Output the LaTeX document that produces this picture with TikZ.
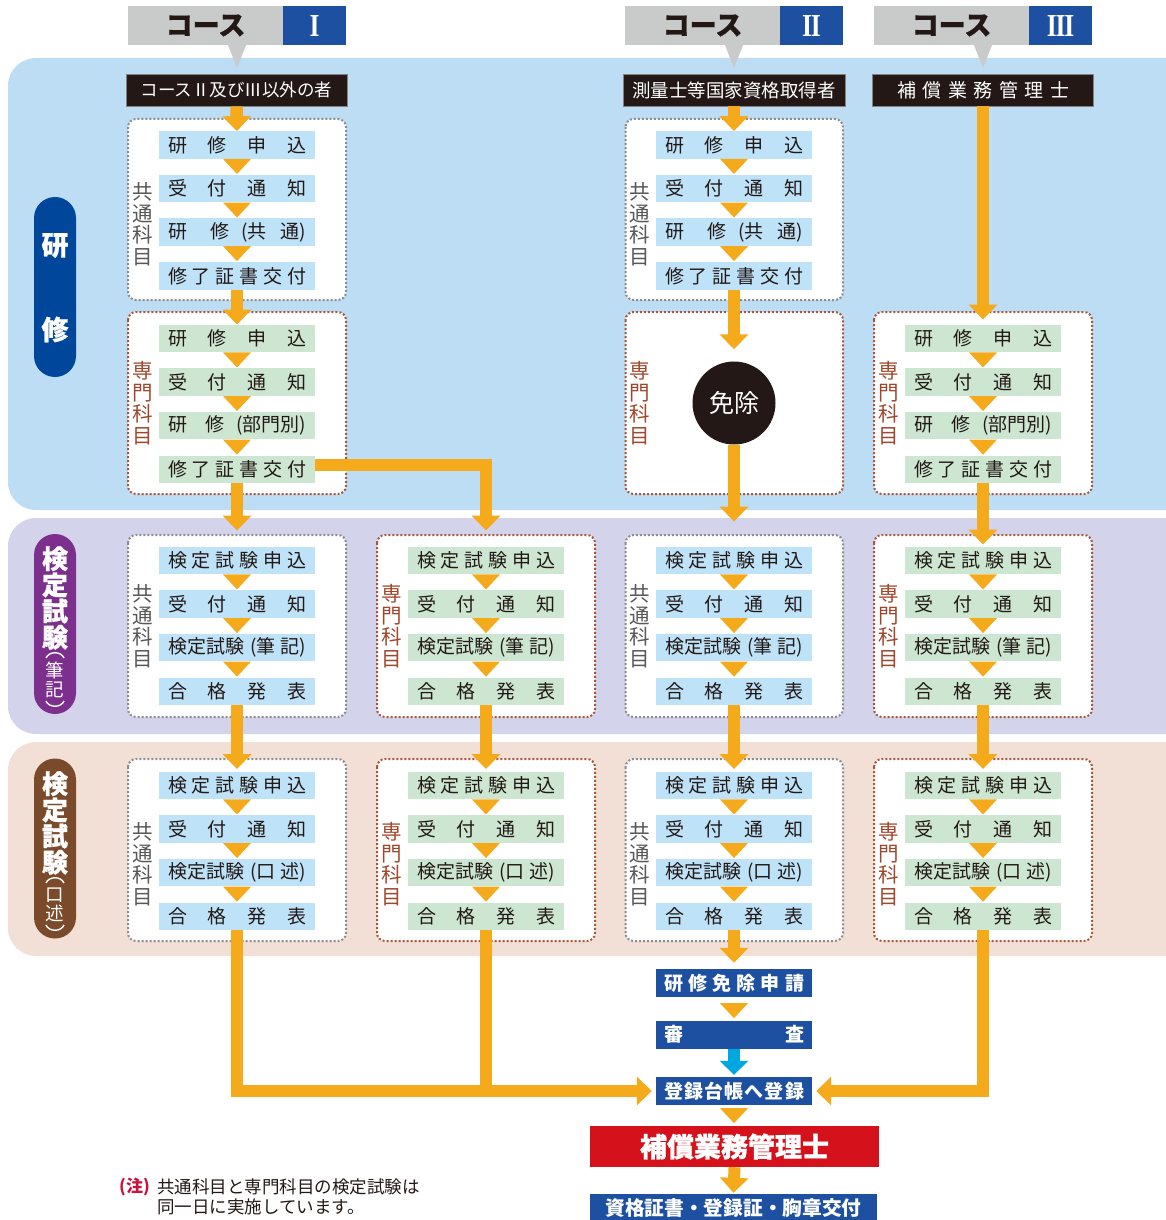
\documentclass[tikz,border=0pt]{standalone}
\usepackage{fontspec}
\usepackage{graphicx}
\setmainfont{Noto Sans CJK JP}
\newfontfamily\romnum{Liberation Serif}
\usetikzlibrary{calc,arrows.meta}
\definecolor{bandA}{HTML}{BCDDF4}
\definecolor{bandB}{HTML}{D3D4EB}
\definecolor{bandC}{HTML}{F2E0D7}
\definecolor{stepB}{HTML}{BEE3F8}
\definecolor{stepG}{HTML}{CCE6D2}
\definecolor{ink}{HTML}{231815}
\definecolor{orng}{HTML}{F5AA1C}
\definecolor{hgray}{HTML}{C9CACA}
\definecolor{hblue}{HTML}{1E50A2}
\definecolor{pillA}{HTML}{00469B}
\definecolor{pillB}{HTML}{7D2F8E}
\definecolor{pillC}{HTML}{7A4A2B}
\definecolor{lblgray}{HTML}{595757}
\definecolor{lblbrown}{HTML}{A0472B}
\definecolor{dotgray}{HTML}{8C8C8C}
\definecolor{dotbrown}{HTML}{A9553A}
\definecolor{redbox}{HTML}{D5121C}
\definecolor{cyanarr}{HTML}{00A7E1}
\definecolor{notered}{HTML}{C8143C}
\newcommand\heavy{\bfseries\addfontfeatures{FakeBold=0.8}}
\newcommand\stA{\makebox[138pt][s]{研\hfill 修\hfill 申\hfill 込}}
\newcommand\stB{\makebox[138pt][s]{受\hfill 付\hfill 通\hfill 知}}
\newcommand\stC{\makebox[138pt][s]{研\hfill 修\hspace{12pt}(共\hspace{14pt}通)}}
\newcommand\stD{\makebox[138pt][s]{研\hfill 修\hspace{12pt}(部門別)}}
\newcommand\stE{\makebox[138pt][s]{修\hfill 了\hfill 証\hfill 書\hfill 交\hfill 付}}
\newcommand\stF{\makebox[138pt][s]{検\hfill 定\hfill 試\hfill 験\hfill 申\hfill 込}}
\newcommand\stG{\makebox[138pt][s]{検定試験\hfill(筆\hspace{5pt}記)}}
\newcommand\stH{\makebox[138pt][s]{検定試験\hfill(口\hspace{5pt}述)}}
\newcommand\stI{\makebox[138pt][s]{合\hfill 格\hfill 発\hfill 表}}
\newcommand\rn[1]{\scalebox{0.8}[1]{#1}}
\newcommand\fourstep[8]{%
  \node[#4] (#1x1) at (#2,#3) {#5};
  \node[#4] (#1x2) at (#2,#3+43.6) {#6};
  \node[#4] (#1x3) at (#2,#3+87.2) {#7};
  \node[#4] (#1x4) at (#2,#3+130.8) {#8};
  \foreach \k in {1,2,3}{\fill[orng] ($(#1x\k.south)+(-14,0)$) -- ($(#1x\k.south)+(14,0)$) -- ($(#1x\k.south)+(0,15)$) -- cycle;}
}
\tikzset{
  stepbox/.style={minimum width=156pt, minimum height=27.5pt, inner sep=0pt, text=ink, font=\fontsize{19}{19}\selectfont},
  stepblue/.style={stepbox, fill=stepB},
  stepgreen/.style={stepbox, fill=stepG},
  bigarrow/.style={draw=orng, line width=12.5pt, -{Triangle[width=28pt,length=15pt]}},
  bigline/.style={draw=orng, line width=12.5pt},
  dotA/.style={draw=dotgray, line width=2pt, dash pattern=on 2pt off 2pt, rounded corners=8pt, fill=white},
  dotB/.style={draw=dotbrown, line width=2pt, dash pattern=on 2pt off 2pt, rounded corners=8pt, fill=white},
  vlab/.style={align=center, inner sep=0pt, font=\fontsize{20.5}{21.5}\selectfont},
  vgray/.style={vlab, text=lblgray},
  vbrown/.style={vlab, text=lblbrown},
  hdrg/.style={fill=hgray, minimum width=155pt, minimum height=39pt, inner sep=0pt, text=ink, font=\fontsize{27}{27}\selectfont\heavy},
  hdrb/.style={fill=hblue, minimum width=63pt, minimum height=39pt, inner sep=0pt, text=white, font=\fontsize{32}{32}\romnum\bfseries},
  blk/.style={fill=ink, draw=ink!55, line width=0.8pt, minimum width=221pt, minimum height=32pt, inner sep=0pt, text=white},
  pill/.style={rounded corners=21pt, minimum width=42pt, minimum height=180pt, inner sep=0pt},
  pilltxt/.style={align=center, inner sep=0pt, text=white, font=\fontsize{26}{26.2}\selectfont\heavy},
  pillsmall/.style={align=center, inner sep=0pt, text=white, font=\fontsize{18.5}{19}\selectfont},
  paren/.style={draw=white, line width=1.4pt},
  bluebox/.style={fill=hblue, minimum width=156pt, minimum height=28pt, inner sep=0pt, text=white, font=\fontsize{19}{19}\selectfont\bfseries},
}
\begin{document}
\begin{tikzpicture}[x=1pt,y=-1pt]
\useasboundingbox (0,0) rectangle (1166,1220);
\clip (0,0) rectangle (1166,1220);
% bands
\fill[bandA,rounded corners=28pt] (8,58) rectangle (1200,510);
\fill[bandB,rounded corners=28pt] (8,518) rectangle (1200,734);
\fill[bandC,rounded corners=28pt] (8,742) rectangle (1200,956);
% pills
\node[pill, fill=pillA] (pill1) at (55,287) {};
\node[pilltxt, font=\fontsize{27}{27}\selectfont\heavy] (pk1) at (55,245.5) {研};
\node[pilltxt, font=\fontsize{27}{27}\selectfont\heavy] (pk2) at (55,329.5) {修};
\node[pill, fill=pillB] (pill2) at (55,624) {};
\node[pilltxt] (pp1) at (55,598) {検\\定\\試\\験};
\node[pillsmall] (pp2) at (55,679.5) {筆\\記};
\draw[paren] (46,658) .. controls (49,651) and (61,651) .. (64,658);
\draw[paren] (46,701) .. controls (49,708) and (61,708) .. (64,701);
\node[pill, fill=pillC] (pill3) at (55,848.5) {};
\node[pilltxt] (pq1) at (55,823) {検\\定\\試\\験};
\node[pillsmall] (pq2) at (55,904.5) {口\\述};
\draw[paren] (46,883) .. controls (49,876) and (61,876) .. (64,883);
\draw[paren] (46,925) .. controls (49,932) and (61,932) .. (64,925);
% headers
\node[hdrg] (h1g) at (205.5,25.5) {コース};
\node[hdrb] (h1b) at (314.5,26) {\rn{I}};
\node[hdrg] (h2g) at (702.5,25.5) {コース};
\node[hdrb] (h2b) at (811.5,26) {\rn{I\kern-1.5pt I}};
\node[hdrg] (h3g) at (951.5,25.5) {コース};
\node[hdrb] (h3b) at (1060.5,26) {\rn{I\kern-1.5pt I\kern-1.5pt I}};
\fill[hgray] (227.5,44) -- (246.5,44) -- (237,68) -- cycle;
\fill[hgray] (724.5,44) -- (743.5,44) -- (734,68) -- cycle;
\fill[hgray] (973.5,44) -- (992.5,44) -- (983,68) -- cycle;
% black labels
\node[blk, font=\fontsize{17.5}{17.5}\selectfont] (lab1) at (236.5,90) {コースⅡ及びⅢ以外の者};
\node[blk, minimum width=222pt, font=\fontsize{18.5}{18.5}\selectfont] (lab3) at (734,90) {測量士等国家資格取得者};
\node[blk, font=\fontsize{19}{19}\selectfont] (lab4) at (983,90) {\makebox[172pt][s]{補\hfill 償\hfill 業\hfill 務\hfill 管\hfill 理\hfill 士}};
% dotted frames
\draw[dotA] (128,119) rectangle (346,300);
\draw[dotB] (128,312) rectangle (346,494);
\draw[dotA] (625.5,119) rectangle (843,300);
\draw[dotB] (625.5,312) rectangle (843,494);
\draw[dotB] (874,312) rectangle (1092,494);
\draw[dotA] (128,535) rectangle (346,717);
\draw[dotB] (377,535) rectangle (595,717);
\draw[dotA] (625.5,535) rectangle (843,717);
\draw[dotB] (874,535) rectangle (1092,717);
\draw[dotA] (128,759) rectangle (346,941);
\draw[dotB] (377,759) rectangle (595,941);
\draw[dotA] (625.5,759) rectangle (843,941);
\draw[dotB] (874,759) rectangle (1092,941);
% vertical labels
\node[vgray] (v1a) at (143,224) {共\\通\\科\\目};
\node[vbrown] (v1b) at (143,403) {専\\門\\科\\目};
\node[vgray] (v3a) at (640,224) {共\\通\\科\\目};
\node[vbrown] (v3b) at (640,403) {専\\門\\科\\目};
\node[vbrown] (v4b) at (889,403) {専\\門\\科\\目};
\node[vgray] (v1p) at (143,626) {共\\通\\科\\目};
\node[vbrown] (v2p) at (392,626) {専\\門\\科\\目};
\node[vgray] (v3p) at (640,626) {共\\通\\科\\目};
\node[vbrown] (v4p) at (889,626) {専\\門\\科\\目};
\node[vgray] (v1k) at (143,864) {共\\通\\科\\目};
\node[vbrown] (v2k) at (392,864) {専\\門\\科\\目};
\node[vgray] (v3k) at (640,864) {共\\通\\科\\目};
\node[vbrown] (v4k) at (889,864) {専\\門\\科\\目};
% steps
\fourstep{c1a}{237}{145}{stepblue}{\stA}{\stB}{\stC}{\stE}
\fourstep{c1b}{237}{338.5}{stepgreen}{\stA}{\stB}{\stD}{\stE}
\fourstep{c3a}{734}{145}{stepblue}{\stA}{\stB}{\stC}{\stE}
\fourstep{c4b}{983}{338.5}{stepgreen}{\stA}{\stB}{\stD}{\stE}
\fourstep{c1p}{237}{560.5}{stepblue}{\stF}{\stB}{\stG}{\stI}
\fourstep{c2p}{486}{560.5}{stepgreen}{\stF}{\stB}{\stG}{\stI}
\fourstep{c3p}{734}{560.5}{stepblue}{\stF}{\stB}{\stG}{\stI}
\fourstep{c4p}{983}{560.5}{stepgreen}{\stF}{\stB}{\stG}{\stI}
\fourstep{c1k}{237}{785.5}{stepblue}{\stF}{\stB}{\stH}{\stI}
\fourstep{c2k}{486}{785.5}{stepgreen}{\stF}{\stB}{\stH}{\stI}
\fourstep{c3k}{734}{785.5}{stepblue}{\stF}{\stB}{\stH}{\stI}
\fourstep{c4k}{983}{785.5}{stepgreen}{\stF}{\stB}{\stH}{\stI}
% exemption circle
\node[circle, fill=ink, minimum size=83pt, inner sep=0pt, text=white, font=\fontsize{25}{25}\selectfont] (menjo) at (734,403) {免除};
% bottom chain
\node[bluebox] (menshin) at (734,983) {\makebox[140pt][s]{研\hfill 修\hfill 免\hfill 除\hfill 申\hfill 請}};
\node[bluebox] (shinsa) at (734,1034.5) {\makebox[140pt][s]{審\hfill 査}};
\node[bluebox] (touroku) at (734,1091) {\makebox[140pt][s]{登\hfill 録\hfill 台\hfill 帳\hfill へ\hfill 登\hfill 録}};
\node[fill=redbox, minimum width=289pt, minimum height=41pt, inner sep=0pt, text=white, font=\fontsize{27}{27}\selectfont\heavy] (kanrishi) at (734.5,1146.5) {補償業務管理士};
\node[fill=hblue, minimum width=287pt, minimum height=27pt, inner sep=0pt, text=white, font=\fontsize{19.7}{19.7}\selectfont\bfseries] (koufu) at (733.5,1207.5) {資格証書・登録証・胸章交付};
% main connectors
\draw[bigarrow] (lab1.south) -- (c1ax1.north);
\draw[bigarrow] (c1ax4.south) -- (c1bx1.north);
\draw[bigarrow] (c1bx4.south) -- ($(c1px1.north)+(0,-16)$);
\draw[bigarrow] ($(c1bx4.east)+(0,-4.5)$) -| ($(c2px1.north)+(0,-16)$);
\draw[bigarrow] (lab3.south) -- (c3ax1.north);
\draw[bigarrow] (c3ax4.south) -- ($(menjo.north)+(0,-12)$);
\draw[bigarrow] (menjo.south) -- ($(c3px1.north)+(0,-25)$);
\draw[bigarrow] (lab4.south) -- ($(c4bx1.north)+(0,-5)$);
\draw[bigarrow] (c4bx4.south) -- ($(c4px1.north)+(0,-2)$);
\draw[bigarrow] (c1px4.south) -- ($(c1kx1.north)+(0,-2.5)$);
\draw[bigarrow] (c2px4.south) -- ($(c2kx1.north)+(0,-2.5)$);
\draw[bigarrow] (c3px4.south) -- ($(c3kx1.north)+(0,-2.5)$);
\draw[bigarrow] (c4px4.south) -- ($(c4kx1.north)+(0,-2.5)$);
\draw[bigarrow] (c1kx4.south) |- ($(touroku.west)+(-4,0)$);
\draw[bigline] (c2kx4.south) -- ($(c2kx4.south |- touroku.west)+(0,6.25)$);
\draw[bigarrow] (c3kx4.south) -- ($(menshin.north)+(0,-6)$);
\draw[bigarrow] (c4kx4.south) |- ($(touroku.east)+(4,0)$);
\fill[orng] ($(menshin.south)+(-14,6)$) -- ($(menshin.south)+(14,6)$) -- ($(menshin.south)+(0,21)$) -- cycle;
\draw[cyanarr, line width=12pt, -{Triangle[width=28pt,length=14pt]}] (shinsa.south) -- ($(touroku.north)+(0,-2)$);
\fill[orng] ($(touroku.south)+(-14,3)$) -- ($(touroku.south)+(14,3)$) -- ($(touroku.south)+(0,18)$) -- cycle;
\draw[draw=orng, line width=12pt, -{Triangle[width=28pt,length=15pt]}] (kanrishi.south) -- ($(koufu.north)+(0,-1)$);
% note
\node[anchor=west, inner sep=0pt, text=notered, font=\fontsize{17}{17}\selectfont\bfseries] (chu) at (119,1187) {(注)};
\node[anchor=west, inner sep=0pt, text=ink, font=\fontsize{17.5}{17.5}\selectfont] (note1) at (157,1187) {共通科目と専門科目の検定試験は};
\node[anchor=west, inner sep=0pt, text=ink, font=\fontsize{17.5}{17.5}\selectfont] (note2) at (157,1207) {同一日に実施しています。};
\end{tikzpicture}
\end{document}
